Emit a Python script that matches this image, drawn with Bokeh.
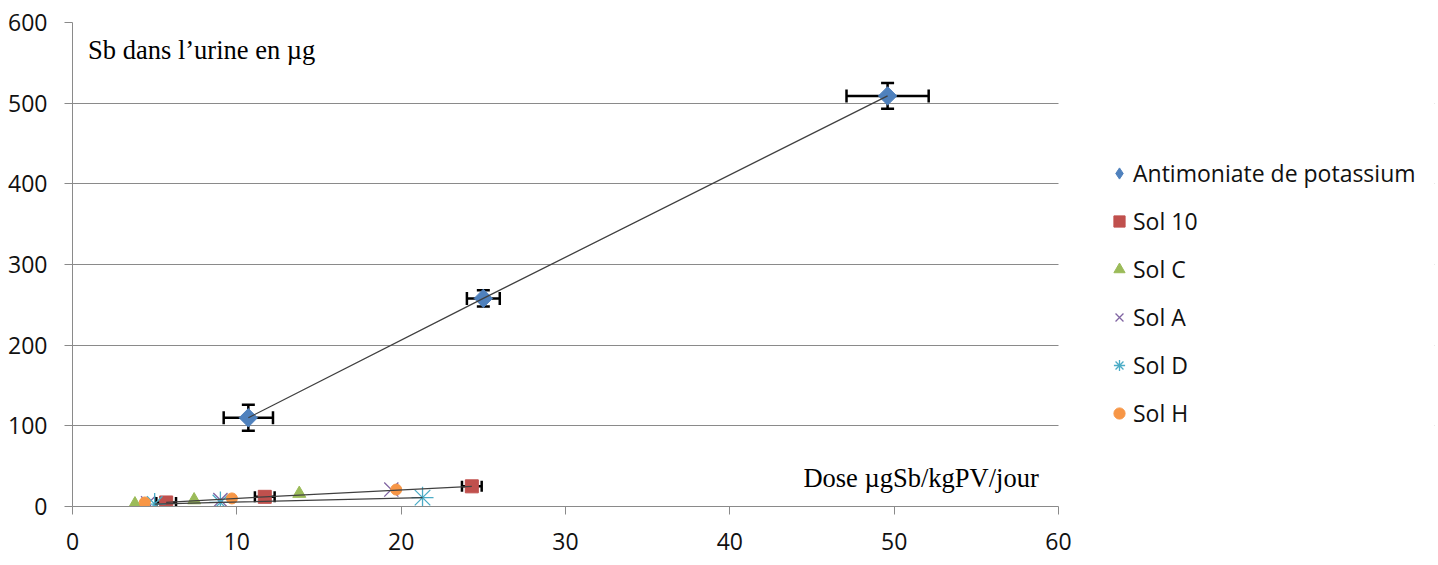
import math
from bokeh.plotting import figure
from bokeh.models import (Range1d, Whisker, TeeHead, ColumnDataSource, Label,
                          Legend, LegendItem, FixedTicker, BoxAnnotation)
from bokeh.embed import file_html
from bokeh.resources import INLINE

# ---- data ----
series_names = ["Antimoniate de potassium", "Sol 10", "Sol C", "Sol A", "Sol D", "Sol H"]

antim_x = [10.7, 25.0, 49.6]
antim_y = [110, 258, 509]
antim_xerr = [1.5, 1.0, 2.5]
antim_yerr = [16, 10, 16]

sol10_x = [5.7, 11.7, 24.3]
sol10_y = [5, 12, 25]
sol10_xerr = [0.6, 0.6, 0.6]

solC_x = [3.8, 7.4, 13.8]
solC_y = [3, 8, 16]

solA_x = [4.6, 9.0, 19.4]
solA_y = [4, 8, 21]

solD_x = [5.0, 9.0, 21.3]
solD_y = [3, 5, 11]

solH_x = [4.4, 9.7, 19.7]
solH_y = [5, 10, 21]

x_ticks = [0, 10, 20, 30, 40, 50, 60]
y_ticks = [0, 100, 200, 300, 400, 500, 600]

y_title = "Sb dans l\u2019urine en \u00b5g"
x_title = "Dose \u00b5gSb/kgPV/jour"

colors = ["#4F81BD", "#C0504D", "#9BBB59", "#8064A2", "#4BACC6", "#F79646"]

# layout: the plotted axis (0..60) occupies 986 px; the frame continues to the right
# so that the legend can live inside it.
AXIS_PX = 986
FRAME_W = 1362
FRAME_H = 484
x_max = x_ticks[-1]
x_end = x_max * FRAME_W / AXIS_PX

p = figure(frame_width=FRAME_W, frame_height=FRAME_H, output_backend="svg", toolbar_location=None,
           x_range=Range1d(x_ticks[0], x_end), y_range=Range1d(y_ticks[0], y_ticks[-1]),
           min_border_left=72, min_border_right=2, min_border_top=22, min_border_bottom=57)
p.outline_line_color = None
p.background_fill_color = "white"

p.xgrid.grid_line_color = None
p.ygrid.grid_line_color = "#8a8a8a"
p.ygrid.grid_line_width = 1
p.xaxis.ticker = FixedTicker(ticks=x_ticks)
p.yaxis.ticker = FixedTicker(ticks=y_ticks)
p.xaxis.bounds = (x_ticks[0], x_max)
for ax in (p.xaxis[0], p.yaxis[0]):
    ax.axis_line_color = "#8a8a8a"
    ax.major_tick_line_color = "#8a8a8a"
    ax.major_tick_in = 0
    ax.major_tick_out = 8
    ax.minor_tick_line_color = None
    ax.major_label_text_font = "Open Sans"
    ax.major_label_text_font_size = "23px"
    ax.major_label_text_color = "#111111"
p.yaxis.major_label_standoff = 17
p.xaxis.major_label_standoff = 18

# blank out gridlines beyond the last x tick (legend area)
p.add_layout(BoxAnnotation(left=x_max, fill_color="white", fill_alpha=1.0,
                           line_color=None, level="underlay"))

# error bars (behind markers)
src_a = ColumnDataSource(dict(
    x=antim_x, y=antim_y,
    xl=[x - e for x, e in zip(antim_x, antim_xerr)], xu=[x + e for x, e in zip(antim_x, antim_xerr)],
    yl=[y - e for y, e in zip(antim_y, antim_yerr)], yu=[y + e for y, e in zip(antim_y, antim_yerr)]))
src_10 = ColumnDataSource(dict(
    x=sol10_x, y=sol10_y,
    xl=[x - e for x, e in zip(sol10_x, sol10_xerr)], xu=[x + e for x, e in zip(sol10_x, sol10_xerr)]))

def tee(sz):
    return TeeHead(size=sz, line_width=2.5, line_color="black")

p.add_layout(Whisker(source=src_a, base="y", lower="xl", upper="xu", dimension="width",
                     line_color="black", line_width=2.5, lower_head=tee(13), upper_head=tee(13)))
p.add_layout(Whisker(source=src_a, base="x", lower="yl", upper="yu", dimension="height",
                     line_color="black", line_width=2.5, lower_head=tee(13), upper_head=tee(13)))
p.add_layout(Whisker(source=src_10, base="y", lower="xl", upper="xu", dimension="width",
                     line_color="black", line_width=2.5, lower_head=tee(11), upper_head=tee(11)))

# markers
# diamond used for the legend symbol (hidden under the rotated squares in the plot)
r_a_leg = p.scatter(antim_x, antim_y, marker="diamond", size=17,
                    fill_color=colors[0], line_color=colors[0])
r_a = p.scatter(antim_x, antim_y, marker="square", angle=math.pi / 4, size=13,
                fill_color=colors[0], line_color=colors[0])
r_10 = p.scatter(sol10_x, sol10_y, marker="square", size=13,
                 fill_color=colors[1], line_color=colors[1])
r_c = p.scatter(solC_x, solC_y, marker="triangle", size=13,
                fill_color=colors[2], line_color=colors[2])
r_A = p.scatter(solA_x, solA_y, marker="x", size=20, line_color=colors[3], line_width=1.3)
r_d = p.scatter(solD_x, solD_y, marker="asterisk", size=22, line_color=colors[4], line_width=1.3)
r_h = p.scatter(solH_x, solH_y, marker="circle", size=11,
                fill_color=colors[5], line_color=colors[5])

# connecting lines (drawn over markers)
p.line(antim_x, antim_y, line_color="#404040", line_width=1.3)
p.line(sol10_x, sol10_y, line_color="#404040", line_width=1.3)
p.line(solD_x, solD_y, line_color="#404040", line_width=1.3)

# titles inside the plot area
p.add_layout(Label(x=0.95, y=566, text=y_title, text_font="Liberation Serif",
                   text_font_size="26.5px", text_color="black", text_baseline="alphabetic"))
p.add_layout(Label(x=58.8, y=35, text=x_title, text_font="Liberation Serif",
                   text_font_size="26.5px", text_color="black", text_align="right",
                   text_baseline="alphabetic"))

legend = Legend(items=[LegendItem(label=n, renderers=[r]) for n, r in
                       zip(series_names, [r_a_leg, r_10, r_c, r_A, r_d, r_h])],
                location=(1033, 77), orientation="vertical",
                glyph_width=28, glyph_height=32, label_height=32, spacing=16,
                padding=0, margin=0, label_standoff=0,
                border_line_color=None, background_fill_alpha=0,
                label_text_font="Open Sans", label_text_font_size="23px",
                label_text_color="#111111")
p.add_layout(legend)

open("out.html", "w").write(file_html(p, INLINE))
